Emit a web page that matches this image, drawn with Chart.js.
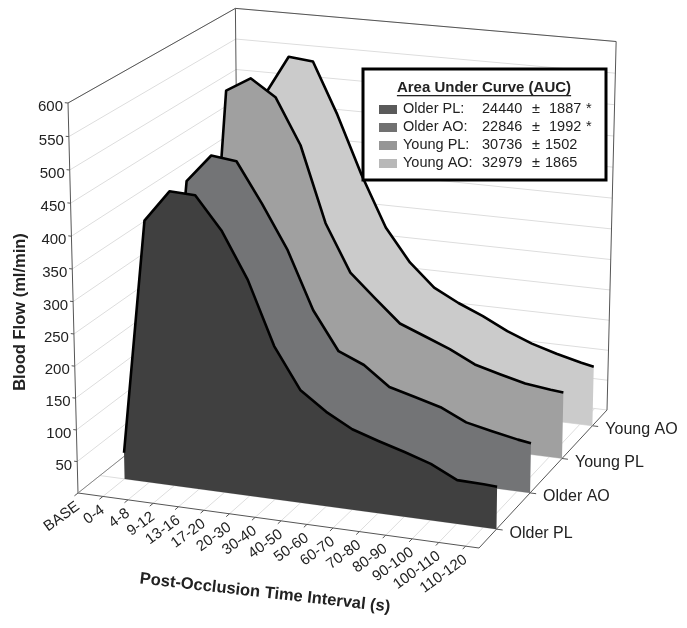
<!DOCTYPE html>
<html>
<head>
<meta charset="utf-8">
<style>
  html, body { margin: 0; padding: 0; background: #fff; }
  canvas { display: block; }
</style>
<script src="https://cdn.jsdelivr.net/npm/chart.js@4"></script>
</head>
<body>
<canvas id="chart" width="687" height="628"></canvas>
<script>
const categories = ['BASE','0-4','4-8','9-12','13-16','17-20','20-30','30-40','40-50','50-60','60-70','70-80','80-90','90-100','100-110','110-120'];
const seriesNames = ['Older PL','Older AO','Young PL','Young AO'];
const yTicks = [50,100,150,200,250,300,350,400,450,500,550,600];

const olderPL = [42,410,459,457,408,337,240,177,148,126,113,101,88,68,67,66];
const olderAO = [45,428,472,467,405,337,247,187,170,140,129,118,99,90,82,79];
const youngPL = [45,530,553,527,455,335,260,223,187,171,155,135,124,114,109,107];
const youngAO = [45,485,550,546,464,370,288,235,198,177,160,140,124,112,102,98];

const aucValues = ['24440','22846','30736','32979'];
const aucErrors = ['1887','1992','1502','1865'];
const aucStars = ['*','*','',''];

const allSeries = [olderPL, olderAO, youngPL, youngAO];
const areaColors = ['#404040','#737476','#a0a0a0','#cbcbcb'];
const swatchColors = ['#5a5a5a','#717171','#969696','#b8b8b8'];

// corners of the 3D box on the page, everything else goes through project()
const A = [78,493], B = [479,548], C = [607,410], D = [239,365], E = [68,103];
const det = (B[0]-C[0])*(D[1]-C[1]) - (D[0]-C[0])*(B[1]-C[1]);
const rx = C[0]-B[0]-D[0]+A[0], ry = C[1]-B[1]-D[1]+A[1];
const g = (rx*(D[1]-C[1]) - (D[0]-C[0])*ry) / det;
const i2 = ((B[0]-C[0])*ry - rx*(B[1]-C[1])) / det;
const h = -0.036;

function project(x, y, z) {
  const w = 1 + g*x + h*y + i2*z;
  const px = A[0] + (B[0]*(1+g)-A[0])*x + (E[0]*(1+h)-A[0])*y + (D[0]*(1+i2)-A[0])*z;
  const py = A[1] + (B[1]*(1+g)-A[1])*x + (E[1]*(1+h)-A[1])*y + (D[1]*(1+i2)-A[1])*z;
  return {x: px/w, y: py/w};
}

const TICK_STEPS = 15.5;
const tickX = i => i / TICK_STEPS;
const pointX = i => Math.min(1, (i+1) / TICK_STEPS);
const seriesZ = k => (k+0.5) / 4;
const valY = v => v / 600;

function lineSet(points, color, width) {
  return {data: points, borderColor: color, borderWidth: width, showLine: true, fill: false,
          pointRadius: 0, tension: 0, clip: false, borderJoinStyle: 'round'};
}

let sets = [];
const GRID = '#dddddd', FRAME = '#555555';

// walls
yTicks.forEach(v => {
  sets.push(lineSet([project(0,valY(v),0), project(0,valY(v),1), project(1,valY(v),1)], GRID, 1));
});
// floor
categories.forEach((c, i) => {
  sets.push(lineSet([project(tickX(i),0,0), project(tickX(i),0,1)], GRID, 1));
});
seriesNames.forEach((s, k) => {
  sets.push(lineSet([project(0,0,seriesZ(k)), project(1,0,seriesZ(k))], GRID, 1));
});
sets.push(lineSet([project(0,0,1), project(1,0,1)], GRID, 1));
// frame
sets.push(lineSet([project(0,1,0), project(0,1,1), project(1,1,1), project(1,0,1), project(1,0,0), project(0,0,0), project(0,1,0)], FRAME, 1));
sets.push(lineSet([project(0,1,1), project(0,0,1)], FRAME, 1));
sets.push(lineSet([project(0,0,0), project(0,0,1)], '#888888', 1));
// tick marks
yTicks.forEach(v => {
  sets.push(lineSet([project(-0.008,valY(v),0), project(0,valY(v),0)], FRAME, 1));
});
categories.forEach((c, i) => {
  sets.push(lineSet([project(tickX(i),0,-0.02), project(tickX(i),0,0)], FRAME, 1));
});
seriesNames.forEach((s, k) => {
  sets.push(lineSet([project(1,0,seriesZ(k)), project(1.015,0,seriesZ(k))], FRAME, 1));
});

// back series first so the front ones cover them
for (let k = 3; k >= 0; k--) {
  const vals = allSeries[k], z = seriesZ(k);
  const top = vals.map((v, i) => project(pointX(i), valY(v), z));
  const shape = top.concat([project(1,0,z), project(pointX(0),0,z)]);
  sets.push({data: shape, showLine: true, borderWidth: 0, backgroundColor: areaColors[k], fill: 'shape',
             pointRadius: 0, tension: 0, clip: false});
  sets.push(lineSet(top, '#000000', 2.6));
}

// chart.js paints the first dataset last
sets.reverse();

const TEXT = '#222222', FONT = '"Liberation Sans", Arial, sans-serif';

const textPlugin = {
  id: 'textPlugin',
  afterDraw(chart) {
    const ctx = chart.ctx, sx = chart.scales.x, sy = chart.scales.y;
    const px = p => ({x: sx.getPixelForValue(p.x), y: sy.getPixelForValue(p.y)});
    ctx.save();
    ctx.fillStyle = TEXT;

    // value axis
    ctx.font = '15px ' + FONT;
    ctx.textAlign = 'right';
    ctx.textBaseline = 'middle';
    yTicks.forEach(v => {
      const p = px(project(0,valY(v),0));
      ctx.fillText(String(v), p.x-5, p.y+4);
    });

    // category axis
    categories.forEach((c, i) => {
      const p = px(project(tickX(i),0,0));
      ctx.save();
      ctx.translate(p.x, p.y+12);
      ctx.rotate(-36*Math.PI/180);
      ctx.fillText(c, 0, 0);
      ctx.restore();
    });

    // depth axis
    ctx.font = '16px ' + FONT;
    ctx.textAlign = 'left';
    seriesNames.forEach((s, k) => {
      const p = px(project(1,0,seriesZ(k)));
      ctx.fillText(s, p.x+13, p.y+4);
    });

    // axis titles
    ctx.font = 'bold 16.5px ' + FONT;
    ctx.textAlign = 'center';
    ctx.save();
    ctx.translate(20, 312);
    ctx.rotate(-Math.PI/2);
    ctx.fillText('Blood Flow (ml/min)', 0, 0);
    ctx.restore();
    ctx.save();
    ctx.translate(265, 593);
    ctx.rotate(6.5*Math.PI/180);
    ctx.fillText('Post-Occlusion Time Interval (s)', 0, 0);
    ctx.restore();

    // AUC box
    ctx.fillStyle = '#ffffff';
    ctx.fillRect(363, 69, 243, 111);
    ctx.strokeStyle = '#000000';
    ctx.lineWidth = 3;
    ctx.strokeRect(363, 69, 243, 111);
    ctx.fillStyle = TEXT;
    ctx.font = 'bold 15px ' + FONT;
    ctx.textAlign = 'center';
    ctx.fillText('Area Under Curve (AUC)', 484, 88);
    const w = ctx.measureText('Area Under Curve (AUC)').width;
    ctx.fillRect(484-w/2, 95, w, 1.3);
    ctx.font = '14.5px ' + FONT;
    ctx.textAlign = 'left';
    seriesNames.forEach((s, k) => {
      const y = 109 + k*18;
      ctx.fillStyle = swatchColors[k];
      ctx.fillRect(379, y-4, 18, 9);
      ctx.fillStyle = TEXT;
      ctx.fillText(s + ':', 403, y);
      ctx.fillText(aucValues[k], 482, y);
      ctx.fillText('\u00b1', 532, y);
      ctx.fillText(aucErrors[k], aucStars[k] ? 549 : 545, y);
      if (aucStars[k]) ctx.fillText(aucStars[k], 586, y);
    });
    ctx.restore();
  }
};

new Chart(document.getElementById('chart'), {
  type: 'scatter',
  data: {datasets: sets},
  options: {
    responsive: false,
    animation: false,
    layout: {padding: 0},
    plugins: {legend: {display: false}, tooltip: {enabled: false}},
    scales: {
      x: {type: 'linear', min: 0, max: 687, display: false},
      y: {type: 'linear', min: 0, max: 628, reverse: true, display: false}
    }
  },
  plugins: [textPlugin]
});
</script>
</body>
</html>
